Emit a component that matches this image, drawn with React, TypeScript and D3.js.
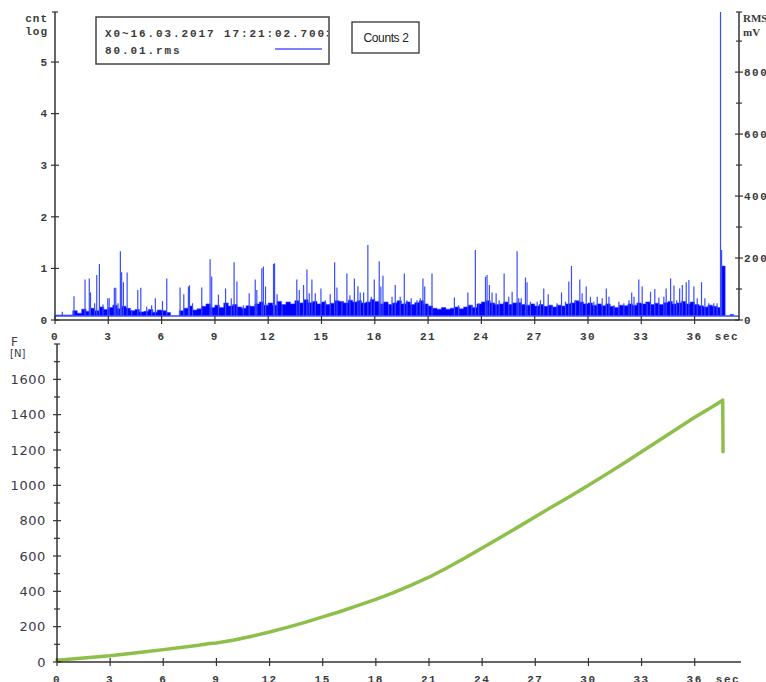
import React from 'react';
import * as d3 from 'd3';

const W = 766;
const H = 682;

// ---- axis ticks ----
const countTicks = [0, 1, 2, 3, 4, 5];
const rmsMajor = [0, 200, 400, 600, 800];
const rmsMinor = [100, 300, 500, 700, 900];
const secTicks = [0, 3, 6, 9, 12, 15, 18, 21, 24, 27, 30, 33, 36];
const forceMajor = [0, 200, 400, 600, 800, 1000, 1200, 1400, 1600];
const forceMinor = [100, 300, 500, 700, 900, 1100, 1300, 1500, 1700, 1800];

// ---- RMS trace (mV): dense floor envelope, one value every 0.25 s from t = 0 ----
const floorStep = 0.25;
const floorMv = [
  16, 16, 16, 16, 30, 22, 35, 28, 38, 30, 42, 34, 40, 48, 36, 44, 38, 30, 34, 26,
  28, 34, 25, 32, 30, 24, 14, 14, 30, 38, 45, 32, 36, 44, 52, 40, 48, 40, 55, 45,
  50, 42, 38, 46, 44, 52, 58, 48, 55, 48, 60, 50, 58, 52, 62, 55, 65, 56, 60, 52,
  58, 50, 54, 62, 60, 55, 64, 58, 62, 55, 58, 66, 60, 52, 58, 50, 55, 62, 52, 58,
  50, 56, 62, 52, 45, 38, 35, 40, 35, 38, 42, 36, 42, 48, 40, 52, 58, 62, 55, 50,
  52, 58, 50, 55, 56, 50, 48, 52, 45, 50, 44, 48, 42, 48, 45, 52, 55, 62, 58, 52,
  55, 48, 52, 46, 52, 44, 40, 48, 46, 52, 48, 55, 52, 58, 50, 54, 50, 56, 60, 52,
  55, 60, 52, 58, 50, 46, 42, 48, 44, 40,
];
// burst at the failure and the quiet tail: [time sec, mV]
const tailFloor: [number, number][] = [[37.5, 174], [37.72, 14], [38.0, 18], [38.2, 13], [38.5, 13]];

// ---- RMS spikes: [time sec, peak mV] ----
const rmsSpikes: [number, number][] = [
  [0.41, 27], [1.07, 77], [1.69, 131], [1.93, 134], [2.0, 89], [2.23, 54], [2.35, 145], [2.5, 181], [2.7, 50], [2.97, 70],
  [3.05, 70], [3.34, 104], [3.42, 104], [3.55, 54], [3.68, 222], [3.75, 154], [3.85, 122], [4.06, 153], [4.32, 32], [4.66, 97],
  [4.83, 104], [5.16, 43], [5.44, 48], [5.65, 70], [6.05, 61], [6.29, 134], [7.04, 105], [7.25, 83], [7.51, 108], [7.57, 112],
  [7.74, 54], [8.26, 105], [8.73, 196], [8.82, 140], [9.2, 82], [9.6, 102], [9.92, 70], [10.08, 186], [10.24, 124], [10.6, 48],
  [10.93, 86], [11.27, 131], [11.36, 97], [11.64, 167], [11.73, 173], [11.85, 108], [12.3, 181], [12.36, 183], [12.5, 83], [12.78, 48],
  [13.61, 131], [13.75, 97], [13.99, 113], [14.18, 163], [14.31, 86], [14.46, 131], [14.65, 86], [14.97, 102], [15.21, 64], [15.49, 83],
  [15.74, 186], [15.87, 105], [16.15, 59], [16.43, 150], [16.6, 80], [16.85, 134], [17.05, 109], [17.18, 89], [17.37, 89], [17.61, 242],
  [17.8, 75], [17.97, 131], [18.25, 190], [18.34, 108], [18.46, 143], [18.78, 48], [18.97, 75], [19.15, 113], [19.43, 75], [19.66, 150],
  [19.81, 64], [20.05, 70], [20.37, 64], [20.56, 70], [20.71, 134], [20.81, 108], [21.0, 48], [21.22, 150], [22.48, 73], [22.72, 48],
  [23.24, 89], [23.46, 48], [23.66, 226], [23.85, 54], [24.23, 140], [24.32, 145], [24.45, 113], [24.6, 89], [24.83, 86], [25.0, 64],
  [25.28, 150], [25.54, 75], [25.73, 91], [26.01, 222], [26.1, 70], [26.24, 70], [26.48, 137], [26.57, 122], [26.76, 59], [27.14, 59],
  [27.32, 64], [27.51, 102], [27.76, 83], [27.98, 48], [28.26, 54], [28.51, 89], [28.73, 59], [28.92, 124], [29.07, 174], [29.3, 64],
  [29.54, 131], [29.67, 86], [29.9, 108], [30.14, 75], [30.33, 59], [30.52, 75], [30.8, 70], [31.03, 102], [31.18, 75], [31.46, 48],
  [31.74, 59], [32.02, 54], [32.31, 64], [32.46, 89], [32.59, 75], [32.86, 131], [33.05, 108], [33.33, 54], [33.52, 91], [33.76, 100],
  [33.99, 73], [34.27, 75], [34.4, 102], [34.65, 134], [34.84, 111], [34.99, 64], [35.16, 102], [35.31, 113], [35.53, 122], [35.68, 129],
  [35.96, 108], [36.15, 70], [36.39, 122], [36.58, 70], [36.8, 54], [37.08, 54], [37.27, 54], [37.46, 994], [37.52, 226],
];

// ---- Force curve ----
const forceT = [0, 1, 2, 3, 4, 5, 6, 7, 8, 8.6, 9, 10, 11, 12, 13, 14, 15, 16, 17, 18, 19, 20, 21, 22, 23, 24, 25, 26, 27, 28,
  29, 30, 31, 32, 33, 34, 35, 36, 37, 37.58, 37.6];
const forceN = [10, 18, 27, 35, 47, 58, 70, 82, 95, 105, 108, 125, 146, 170, 196, 224, 255, 286, 320, 355, 393, 435, 480, 532, 587,
  645, 703, 762, 822, 882, 940, 1000, 1062, 1125, 1190, 1255, 1320, 1385, 1445, 1482, 1190];

const MONO = "'Liberation Mono', 'DejaVu Sans Mono', monospace";
const SANS = "'DejaVu Sans', Verdana, sans-serif";
const AXIS = '#333';
const LABEL = '#3a3a3a';

export default function App() {
  const xTop = d3.scaleLinear().domain([0, 38.5]).range([55, 739]);
  const yCnt = d3.scaleLinear().domain([0, 5.97]).range([320, 12]);
  const yRms = d3.scaleLinear().domain([0, 994]).range([320, 12]);
  const xBot = d3.scaleLinear().domain([0, 38.5]).range([57, 739]);
  const yF = d3.scaleLinear().domain([0, 1800]).range([662, 344]);

  const floorData: [number, number][] = floorMv.map((v, i) => [i * floorStep, v] as [number, number]).concat(tailFloor);
  const floorArea = d3.area<[number, number]>()
    .x(d => xTop(d[0]))
    .y0(yRms(12))
    .y1(d => yRms(d[1]))
    .curve(d3.curveStepAfter)(floorData) || '';

  const forceData: [number, number][] = forceT.map((t, i) => [t, forceN[i]]);
  const forcePath = d3.line<[number, number]>()
    .x(d => xBot(d[0]))
    .y(d => yF(d[1]))(forceData) || '';

  return (
    <>
      <style>{`body{margin:0}`}</style>
      <svg width={W} height={H} style={{ display: 'block', background: '#fff' }}>
        <defs>
          <clipPath id="legclip"><rect x={97} y={17} width={231} height={46} /></clipPath>
        </defs>

        {/* ===== top chart data ===== */}
        <path d={floorArea} fill="#0000ff" stroke="#3040ff" strokeWidth={0.6} />
        <line x1={xTop(0)} x2={xTop(38.5)} y1={yRms(13)} y2={yRms(13)} stroke="#6070ff" strokeWidth={1} />
        {rmsSpikes.map(([t, v], i) => (
          <line key={i} x1={xTop(t)} x2={xTop(t)} y1={yRms(13)} y2={yRms(v)}
            stroke="#3a4cff" strokeWidth={1.2} />
        ))}

        {/* top left axis */}
        <line x1={55} x2={55} y1={12} y2={320} stroke={AXIS} strokeWidth={1.5} />
        <line x1={52} x2={58} y1={12} y2={12} stroke={AXIS} strokeWidth={1.2} />
        {countTicks.map(v => (
          <g key={v}>
            <line x1={51} x2={59} y1={yCnt(v)} y2={yCnt(v)} stroke={AXIS} strokeWidth={1.2} />
            <text x={47} y={yCnt(v)} dy="0.35em" textAnchor="end" fontFamily={MONO} fontWeight="bold"
              fontSize={11} fill={LABEL}>{v}</text>
          </g>
        ))}
        <text x={48} y={22} textAnchor="end" fontFamily={MONO} fontWeight="bold" fontSize={11} fill={LABEL} letterSpacing={1}>cnt</text>
        <text x={48} y={35} textAnchor="end" fontFamily={MONO} fontWeight="bold" fontSize={11} fill={LABEL} letterSpacing={1}>log</text>

        {/* top right axis */}
        <line x1={739} x2={739} y1={12} y2={320} stroke={AXIS} strokeWidth={1.5} />
        <line x1={736} x2={742} y1={12} y2={12} stroke={AXIS} strokeWidth={1.2} />
        {rmsMinor.map(v => (
          <line key={'m' + v} x1={736} x2={742} y1={yRms(v)} y2={yRms(v)} stroke={AXIS} strokeWidth={1.2} />
        ))}
        {rmsMajor.map(v => (
          <g key={v}>
            <line x1={735} x2={743} y1={yRms(v)} y2={yRms(v)} stroke={AXIS} strokeWidth={1.2} />
            <text x={744} y={yRms(v)} dy="0.35em" fontFamily={MONO} fontWeight="bold" fontSize={11}
              fill={LABEL} letterSpacing={1.5}>{v}</text>
          </g>
        ))}
        <text x={743} y={22} fontFamily="'Liberation Serif', serif" fontWeight="bold" fontSize={11} fill={LABEL}>RMS</text>
        <text x={743} y={36} fontFamily="'Liberation Serif', serif" fontWeight="bold" fontSize={11} fill={LABEL}>mV</text>

        {/* top x axis */}
        <line x1={55} x2={739} y1={320} y2={320} stroke={AXIS} strokeWidth={1.5} />
        {secTicks.map(v => (
          <g key={v}>
            <line x1={xTop(v)} x2={xTop(v)} y1={316} y2={324} stroke={AXIS} strokeWidth={1.2} />
            <text x={xTop(v)} y={340} textAnchor="middle" fontFamily={MONO} fontWeight="bold" fontSize={11}
              fill={LABEL} letterSpacing={1.5}>{v}</text>
          </g>
        ))}
        <text x={727} y={340} textAnchor="middle" fontFamily={MONO} fontWeight="bold" fontSize={11} fill={LABEL} letterSpacing={1.5}>sec</text>

        {/* legend box */}
        <rect x={96} y={17} width={233} height={47} fill="#fff" stroke="#444" strokeWidth={1.5} />
        <g clipPath="url(#legclip)">
          <text x={105} y={37} fontFamily={MONO} fontWeight="bold" fontSize={11} fill={LABEL} letterSpacing={1.9}>X0~16.03.2017 17:21:02.7003</text>
          <text x={105} y={54} fontFamily={MONO} fontWeight="bold" fontSize={11} fill={LABEL} letterSpacing={1.9}>80.01.rms</text>
        </g>
        <line x1={275} x2={322} y1={49} y2={49} stroke="#0000ff" strokeWidth={1.2} />

        <rect x={352} y={22} width={67} height={31} fill="#fff" stroke="#333" strokeWidth={1.3} />
        <text x={386} y={42} textAnchor="middle" fontFamily="'Liberation Sans', Arial, sans-serif" fontSize={12}
          fill="#222" letterSpacing={-0.4}>Counts 2</text>

        {/* ===== bottom chart ===== */}
        <path d={forcePath} fill="none" stroke="#8dbf4a" strokeWidth={3.5} strokeLinejoin="round" strokeLinecap="round" />

        <line x1={57} x2={57} y1={344} y2={662} stroke={AXIS} strokeWidth={1.5} />
        {forceMinor.map(v => (
          <line key={'m' + v} x1={54} x2={60} y1={yF(v)} y2={yF(v)} stroke={AXIS} strokeWidth={1.2} />
        ))}
        {forceMajor.map(v => (
          <g key={v}>
            <line x1={53} x2={61} y1={yF(v)} y2={yF(v)} stroke={AXIS} strokeWidth={1.2} />
            <text x={46} y={yF(v)} dy="0.35em" textAnchor="end" fontFamily={SANS} fontSize={13}
              fill="#3a3a48" letterSpacing={0.6}>{v}</text>
          </g>
        ))}
        <text x={11} y={346} fontFamily={SANS} fontSize={12} fill="#3a3a48">F</text>
        <text x={10} y={357} fontFamily={SANS} fontSize={10} fill="#3a3a48">[N]</text>

        <line x1={57} x2={741} y1={662} y2={662} stroke={AXIS} strokeWidth={1.5} />
        {secTicks.map(v => (
          <g key={v}>
            <line x1={xBot(v)} x2={xBot(v)} y1={658} y2={666} stroke={AXIS} strokeWidth={1.2} />
            <text x={xBot(v)} y={683} textAnchor="middle" fontFamily={MONO} fontWeight="bold" fontSize={11}
              fill={LABEL} letterSpacing={1.5}>{v}</text>
          </g>
        ))}
        <text x={728} y={683} textAnchor="middle" fontFamily={MONO} fontWeight="bold" fontSize={11} fill={LABEL} letterSpacing={1.5}>sec</text>
      </svg>
    </>
  );
}
